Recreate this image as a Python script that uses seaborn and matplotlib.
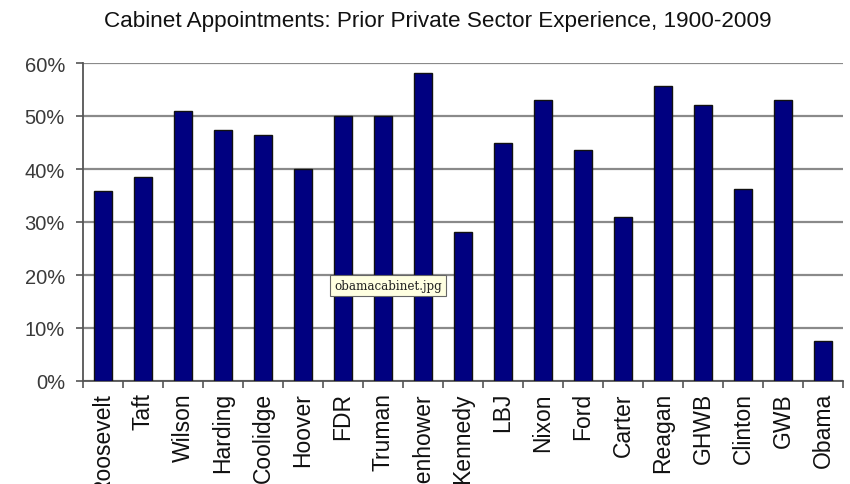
import matplotlib
matplotlib.use("Agg")
import matplotlib.pyplot as plt
import seaborn as sns
import pandas as pd
from matplotlib.ticker import FixedLocator, PercentFormatter

presidents = ["Roosevelt", "Taft", "Wilson", "Harding", "Coolidge", "Hoover", "FDR",
              "Truman", "Eisenhower", "Kennedy", "LBJ", "Nixon", "Ford", "Carter",
              "Reagan", "GHWB", "Clinton", "GWB", "Obama"]
pct = [35.9, 38.4, 50.9, 47.3, 46.4, 40.0, 50.0, 50.0, 58.2, 28.2, 45.0, 53.1,
       43.6, 30.9, 55.6, 52.1, 36.2, 53.1, 7.5]
yticks = [0, 10, 20, 30, 40, 50, 60]
title = "Cabinet Appointments: Prior Private Sector Experience, 1900-2009"
tooltip = "obamacabinet.jpg"

sns.set_style("white")
plt.rcParams["font.family"] = ["Liberation Sans", "DejaVu Sans"]

df = pd.DataFrame({"president": presidents, "pct": pct})

fig = plt.figure(figsize=(8.5, 4.85), dpi=100)
ax = fig.add_axes([83 / 850, 1 - 382 / 485, 760 / 850, 318 / 485])

sns.barplot(data=df, x="president", y="pct", color="#000080", width=0.45,
            edgecolor="#111111", linewidth=1.0, saturation=1, ax=ax, zorder=3)

n = len(presidents)
ax.set_xlim(-0.5, n - 0.5)
ax.set_ylim(0, 60)
ax.set_yticks(yticks)
ax.yaxis.set_major_formatter(PercentFormatter(decimals=0))
ax.grid(axis="y", color="#8a8a8a", linewidth=1.6, zorder=0)
ax.set_axisbelow(True)
ax.set_xlabel("")
ax.set_ylabel("")

for side in ["top", "right"]:
    ax.spines[side].set_visible(False)
for side in ["left", "bottom"]:
    ax.spines[side].set_color("#555555")
    ax.spines[side].set_linewidth(1.3)

ax.set_xticks(range(n))
ax.set_xticklabels(presidents, rotation=90, fontsize=16.5, color="#111111")
ax.tick_params(axis="x", which="major", length=0, pad=8)
ax.xaxis.set_minor_locator(FixedLocator([i - 0.5 for i in range(n + 1)]))
ax.tick_params(axis="x", which="minor", length=5, width=1.2, color="#555555",
               direction="out", bottom=True)
ax.tick_params(axis="y", length=5, width=1.2, color="#555555", direction="out",
               left=True, labelsize=14.5, labelcolor="#3a3a3a", pad=8)

fig.text(0.515, 1 - 21 / 485, title, ha="center", va="center", fontsize=16.2,
         color="#111111")

fig.text(388 / 850, 1 - 286.5 / 485, tooltip, ha="center", va="center",
         fontsize=8.6, color="#222222", family=["DejaVu Serif"],
         bbox=dict(boxstyle="square,pad=0.35", facecolor="#ffffe1",
                   edgecolor="#666666", linewidth=0.8))

fig.savefig("out.png", dpi=100)
